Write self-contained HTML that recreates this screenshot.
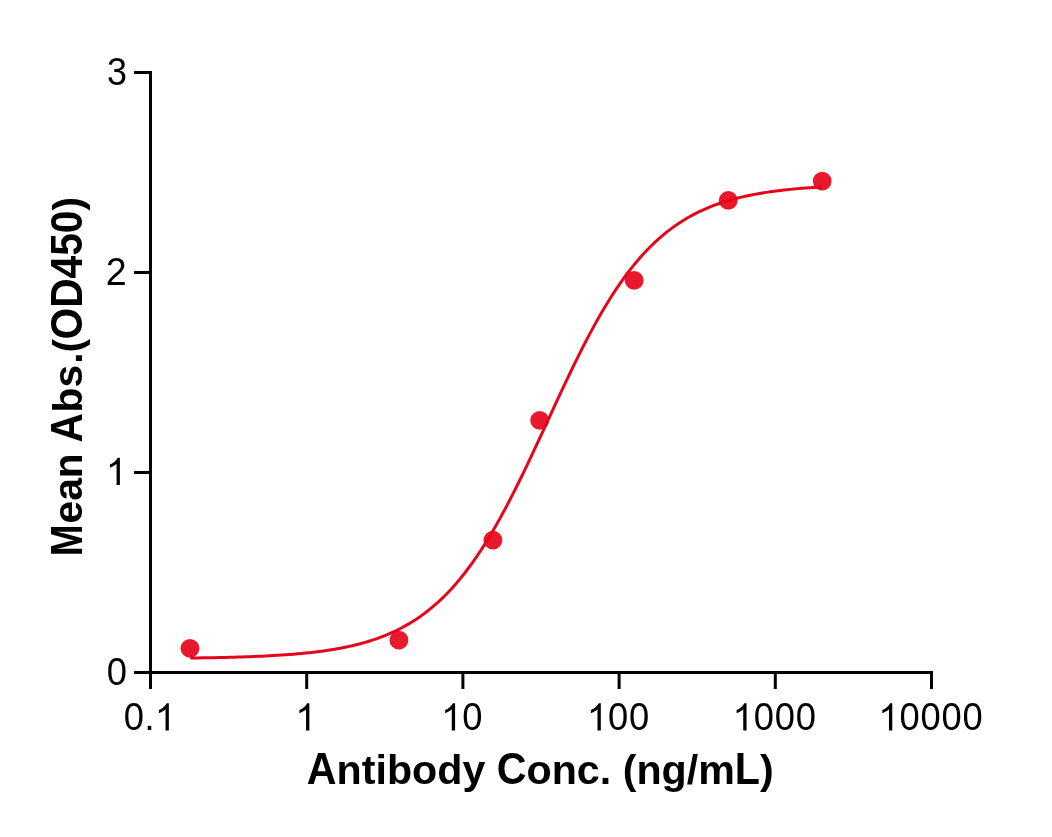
<!DOCTYPE html>
<html><head><meta charset="utf-8"><title>chart</title>
<style>
html,body{margin:0;padding:0;background:#fff;}
body{width:1052px;height:837px;overflow:hidden;font-family:"Liberation Sans",sans-serif;}
svg{display:block;will-change:transform;}
text{font-family:"Liberation Sans",sans-serif;fill:#000;}
.ti text{font-weight:bold;font-kerning:none;}
</style></head><body>
<svg width="1052" height="837" viewBox="0 0 1052 837">
<g fill="#e8192c">
<circle cx="190.0" cy="648.3" r="9.4"/>
<circle cx="398.9" cy="640.2" r="9.4"/>
<circle cx="492.9" cy="540.2" r="9.4"/>
<circle cx="539.7" cy="420.4" r="9.4"/>
<circle cx="634.2" cy="280.4" r="9.4"/>
<circle cx="728.3" cy="200.4" r="9.4"/>
<circle cx="822.2" cy="181.1" r="9.4"/>
</g>
<path d="M190.30 658.02 L194.27 657.97 L198.24 657.91 L202.22 657.85 L206.19 657.79 L210.16 657.72 L214.13 657.64 L218.11 657.56 L222.08 657.48 L226.05 657.38 L230.02 657.28 L234.00 657.18 L237.97 657.06 L241.94 656.94 L245.91 656.81 L249.88 656.66 L253.86 656.51 L257.83 656.34 L261.80 656.17 L265.77 655.98 L269.75 655.77 L273.72 655.55 L277.69 655.31 L281.66 655.06 L285.64 654.79 L289.61 654.49 L293.58 654.18 L297.55 653.84 L301.53 653.48 L305.50 653.09 L309.47 652.67 L313.44 652.22 L317.41 651.74 L321.39 651.22 L325.36 650.67 L329.33 650.08 L333.30 649.44 L337.28 648.75 L341.25 648.02 L345.22 647.23 L349.19 646.39 L353.17 645.49 L357.14 644.52 L361.11 643.49 L365.08 642.38 L369.05 641.20 L373.03 639.93 L377.00 638.58 L380.97 637.13 L384.94 635.58 L388.92 633.93 L392.89 632.17 L396.86 630.29 L400.83 628.29 L404.81 626.15 L408.78 623.88 L412.75 621.46 L416.72 618.89 L420.69 616.16 L424.67 613.26 L428.64 610.19 L432.61 606.93 L436.58 603.49 L440.56 599.84 L444.53 596.00 L448.50 591.94 L452.47 587.66 L456.45 583.16 L460.42 578.43 L464.39 573.47 L468.36 568.27 L472.34 562.84 L476.31 557.16 L480.28 551.24 L484.25 545.08 L488.22 538.69 L492.20 532.06 L496.17 525.20 L500.14 518.12 L504.11 510.83 L508.09 503.34 L512.06 495.65 L516.03 487.79 L520.00 479.77 L523.98 471.60 L527.95 463.31 L531.92 454.91 L535.89 446.42 L539.86 437.87 L543.84 429.27 L547.81 420.65 L551.78 412.04 L555.75 403.44 L559.73 394.90 L563.70 386.42 L567.67 378.03 L571.64 369.76 L575.62 361.61 L579.59 353.61 L583.56 345.77 L587.53 338.11 L591.51 330.65 L595.48 323.38 L599.45 316.34 L603.42 309.51 L607.39 302.91 L611.37 296.55 L615.34 290.43 L619.31 284.55 L623.28 278.90 L627.26 273.50 L631.23 268.34 L635.20 263.41 L639.17 258.71 L643.15 254.24 L647.12 250.00 L651.09 245.97 L655.06 242.15 L659.03 238.54 L663.01 235.12 L666.98 231.89 L670.95 228.84 L674.92 225.96 L678.90 223.26 L682.87 220.71 L686.84 218.31 L690.81 216.06 L694.79 213.94 L698.76 211.96 L702.73 210.10 L706.70 208.35 L710.67 206.71 L714.65 205.18 L718.62 203.75 L722.59 202.41 L726.56 201.15 L730.54 199.98 L734.51 198.88 L738.48 197.86 L742.45 196.90 L746.43 196.01 L750.40 195.17 L754.37 194.40 L758.34 193.67 L762.32 192.99 L766.29 192.36 L770.26 191.77 L774.23 191.22 L778.20 190.71 L782.18 190.23 L786.15 189.79 L790.12 189.38 L794.09 188.99 L798.07 188.63 L802.04 188.30 L806.01 187.99 L809.98 187.70 L813.96 187.43 L817.93 187.17 L821.90 186.94" fill="none" stroke="#e60619" stroke-width="3" stroke-linecap="butt" stroke-linejoin="round"/>
<g fill="#000">
<rect x="149" y="71" width="3" height="603"/>
<rect x="149" y="671" width="784" height="3"/>
<rect x="149.0" y="672" width="3" height="17"/>
<rect x="305.2" y="672" width="3" height="17"/>
<rect x="461.4" y="672" width="3" height="17"/>
<rect x="617.6" y="672" width="3" height="17"/>
<rect x="773.8" y="672" width="3" height="17"/>
<rect x="930.0" y="672" width="3" height="17"/>
<rect x="134" y="671.0" width="16" height="3"/>
<rect x="134" y="471.0" width="16" height="3"/>
<rect x="134" y="271.0" width="16" height="3"/>
<rect x="134" y="71.0" width="16" height="3"/>
</g>
<g fill="#000">
<text transform="translate(123.80,730.40) scale(0.965,1.030)" font-size="37.65">0</text>
<text transform="translate(144.37,730.40) scale(1,1.030)" font-size="37.65">.</text>
<path transform="translate(154.83,730.40) scale(0.01838,-0.01838)" d="M763 0L583 0L583 1147Q518 1085 412.5 1023Q307 961 223 930L223 1104Q374 1175 487 1276Q600 1377 647 1472L763 1472Z"/>
<path transform="translate(295.33,730.40) scale(0.01838,-0.01838)" d="M763 0L583 0L583 1147Q518 1085 412.5 1023Q307 961 223 930L223 1104Q374 1175 487 1276Q600 1377 647 1472L763 1472Z"/>
<path transform="translate(441.06,730.40) scale(0.01838,-0.01838)" d="M763 0L583 0L583 1147Q518 1085 412.5 1023Q307 961 223 930L223 1104Q374 1175 487 1276Q600 1377 647 1472L763 1472Z"/>
<text transform="translate(462.37,730.40) scale(0.965,1.030)" font-size="37.65">0</text>
<path transform="translate(586.79,730.40) scale(0.01838,-0.01838)" d="M763 0L583 0L583 1147Q518 1085 412.5 1023Q307 961 223 930L223 1104Q374 1175 487 1276Q600 1377 647 1472L763 1472Z"/>
<text transform="translate(608.10,730.40) scale(0.965,1.030)" font-size="37.65">0</text>
<text transform="translate(629.04,730.40) scale(0.965,1.030)" font-size="37.65">0</text>
<path transform="translate(732.52,730.40) scale(0.01838,-0.01838)" d="M763 0L583 0L583 1147Q518 1085 412.5 1023Q307 961 223 930L223 1104Q374 1175 487 1276Q600 1377 647 1472L763 1472Z"/>
<text transform="translate(753.83,730.40) scale(0.965,1.030)" font-size="37.65">0</text>
<text transform="translate(774.77,730.40) scale(0.965,1.030)" font-size="37.65">0</text>
<text transform="translate(795.71,730.40) scale(0.965,1.030)" font-size="37.65">0</text>
<path transform="translate(878.25,730.40) scale(0.01838,-0.01838)" d="M763 0L583 0L583 1147Q518 1085 412.5 1023Q307 961 223 930L223 1104Q374 1175 487 1276Q600 1377 647 1472L763 1472Z"/>
<text transform="translate(899.56,730.40) scale(0.965,1.030)" font-size="37.65">0</text>
<text transform="translate(920.50,730.40) scale(0.965,1.030)" font-size="37.65">0</text>
<text transform="translate(941.44,730.40) scale(0.965,1.030)" font-size="37.65">0</text>
<text transform="translate(962.38,730.40) scale(0.965,1.030)" font-size="37.65">0</text>
<text transform="translate(106.79,684.90) scale(0.965,1.030)" font-size="37.65">0</text>
<path transform="translate(105.86,484.90) scale(0.01838,-0.01838)" d="M763 0L583 0L583 1147Q518 1085 412.5 1023Q307 961 223 930L223 1104Q374 1175 487 1276Q600 1377 647 1472L763 1472Z"/>
<text transform="translate(105.86,284.90) scale(1,1.030)" font-size="37.65">2</text>
<text transform="translate(106.98,84.90) scale(0.955,1.030)" font-size="37.65">3</text>
</g>
<g class="ti" transform="translate(0,784)">
<text transform="translate(306.83,0) scale(1.000,1.060)" font-size="41.20" xml:space="preserve">A</text>
<text transform="translate(336.59,0) scale(1.000,1.000)" font-size="41.20" xml:space="preserve">ntibody </text>
<text transform="translate(496.78,0) scale(1.000,1.060)" font-size="41.20" xml:space="preserve">C</text>
<text transform="translate(526.53,0) scale(1.000,1.000)" font-size="41.20" xml:space="preserve">onc</text>
<text transform="translate(599.78,0) scale(1.000,1.000)" font-size="41.20" xml:space="preserve">. </text>
<text transform="translate(622.67,0) scale(1.000,1.000)" font-size="41.20" xml:space="preserve">(</text>
<text transform="translate(636.39,0) scale(1.000,1.000)" font-size="41.20" xml:space="preserve">ng/m</text>
<text transform="translate(734.81,0) scale(1.000,1.060)" font-size="41.20" xml:space="preserve">L</text>
<text transform="translate(759.97,0) scale(1.000,1.000)" font-size="41.20" xml:space="preserve">)</text>
</g>
<g class="ti" transform="translate(82,376.35) rotate(-90)">
<text transform="translate(-179.99,0) scale(0.940,1.070)" font-size="40.70" xml:space="preserve">M</text>
<text transform="translate(-147.05,0) scale(1.000,1.000)" font-size="40.70" xml:space="preserve">ean </text>
<text transform="translate(-66.21,0) scale(1.000,1.070)" font-size="40.70" xml:space="preserve">A</text>
<text transform="translate(-36.11,0) scale(1.000,1.000)" font-size="40.70" xml:space="preserve">bs</text>
<text transform="translate(12.48,0) scale(1.000,1.000)" font-size="40.70" xml:space="preserve">.</text>
<text transform="translate(23.89,0) scale(1.000,1.000)" font-size="40.70" xml:space="preserve">(</text>
<text transform="translate(36.94,0) scale(1.000,1.070)" font-size="40.70" xml:space="preserve">OD450</text>
<text transform="translate(165.90,0) scale(1.000,1.000)" font-size="40.70" xml:space="preserve">)</text>
</g>
</svg>
</body></html>
